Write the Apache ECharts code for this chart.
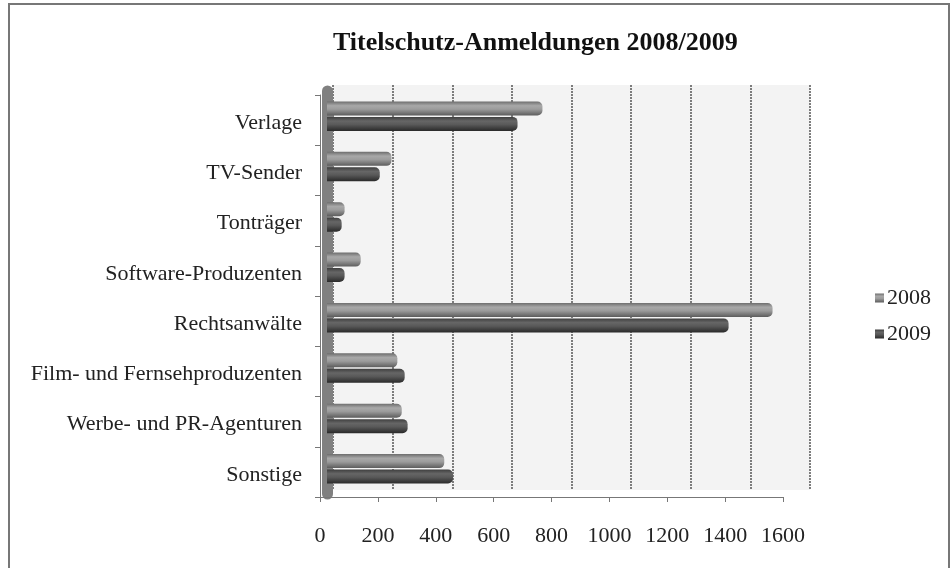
<!DOCTYPE html>
<html><head><meta charset="utf-8">
<script src="https://cdn.jsdelivr.net/npm/echarts@6/dist/echarts.min.js"></script>
<style>html,body{margin:0;padding:0;background:#fff}#c{width:951px;height:568px}</style>
</head><body><div id="c"></div>
<script>
const categories = ['Verlage','TV-Sender','Tonträger','Software-Produzenten','Rechtsanwälte','Film- und Fernsehproduzenten','Werbe- und PR-Agenturen','Sonstige'];
const values2008 = [735, 220, 60, 115, 1520, 240, 255, 400];
const values2009 = [650, 180, 50, 60, 1370, 265, 275, 430];
const seriesNames = ['2008', '2009'];
const xMin = 0, xMax = 1600, xStep = 200;

const FONT = 'Liberation Serif';
const chart = echarts.init(document.getElementById('c'), null, {renderer: 'canvas'});
function grad(stops){ return new echarts.graphic.LinearGradient(0,0,0,1, stops.map((c)=>({offset:c[0], color:c[1]}))); }
const c2008 = grad([[0,'#6e6e6e'],[0.3,'#a8a8a8'],[0.55,'#9c9c9c'],[1,'#5c5c5c']]);
const c2009 = grad([[0,'#3e3e3e'],[0.3,'#666666'],[0.55,'#595959'],[1,'#2a2a2a']]);

chart.setOption({
  backgroundColor: '#fff',
  animation: false,
  title: { text: 'Titelschutz-Anmeldungen 2008/2009', left: 328, top: 25,
    textStyle: { fontFamily: FONT, fontSize: 26, fontWeight: 'bold', color: '#111' } },
  legend: { orient: 'vertical', left: 870, top: 282, itemWidth: 9, itemHeight: 9, itemGap: 14,
    icon: 'rect', data: seriesNames,
    textStyle: { fontFamily: FONT, fontSize: 22, color: '#222', padding: [0,0,0,-2] } },
  graphic: [{ type: 'rect', shape: { x: 9, y: 4, width: 940, height: 570 }, silent: true,
    style: { fill: 'none', stroke: '#777', lineWidth: 2 } }],
  grid: [
    { left: 333, right: 141, top: 85, bottom: 78, show: true, backgroundColor: '#f3f3f3', borderWidth: 0 },
    { left: 327, right: 155, top: 91, bottom: 74 },
    { left: 320, right: 168, top: 95, bottom: 71 }
  ],
  xAxis: [
    { gridIndex: 0, type: 'value', min: xMin, max: xMax, interval: xStep,
      axisLabel: { show: false }, axisLine: { show: false }, axisTick: { show: false },
      splitLine: { show: true, lineStyle: { color: '#555', width: 1.5, type: [2,1] } } },
    { gridIndex: 1, type: 'value', min: xMin, max: xMax, interval: xStep, show: false },
    { gridIndex: 2, type: 'value', min: xMin, max: xMax, interval: xStep,
      axisLabel: { fontFamily: FONT, fontSize: 22, color: '#222', margin: 28, formatter: v => String(v) },
      axisLine: { show: true, lineStyle: { color: '#777', width: 1 } },
      axisTick: { show: true, length: 5, lineStyle: { color: '#777' } },
      splitLine: { show: false } }
  ],
  yAxis: [
    { gridIndex: 0, type: 'category', data: categories, inverse: true, show: false },
    { gridIndex: 1, type: 'category', data: categories, inverse: true,
      axisLabel: { show: false }, axisTick: { show: false },
      axisLine: { show: true, lineStyle: { color: '#808080', width: 11 } } },
    { gridIndex: 2, type: 'category', data: categories, inverse: true,
      axisLabel: { fontFamily: FONT, fontSize: 22, color: '#222', margin: 18, verticalAlign: 'top', lineHeight: 6 },
      axisLine: { show: true, lineStyle: { color: '#777', width: 1 } },
      axisTick: { show: true, length: 5, lineStyle: { color: '#777' } } }
  ],
  series: [
    { name: seriesNames[0], type: 'bar', xAxisIndex: 1, yAxisIndex: 1, data: values2008,
      barWidth: 14, barGap: '10%', itemStyle: { color: c2008, borderRadius: [0,5,5,0] } },
    { name: seriesNames[1], type: 'bar', xAxisIndex: 1, yAxisIndex: 1, data: values2009,
      barWidth: 14, barGap: '10%', itemStyle: { color: c2009, borderRadius: [0,5,5,0] } }
  ]
});
</script></body></html>
